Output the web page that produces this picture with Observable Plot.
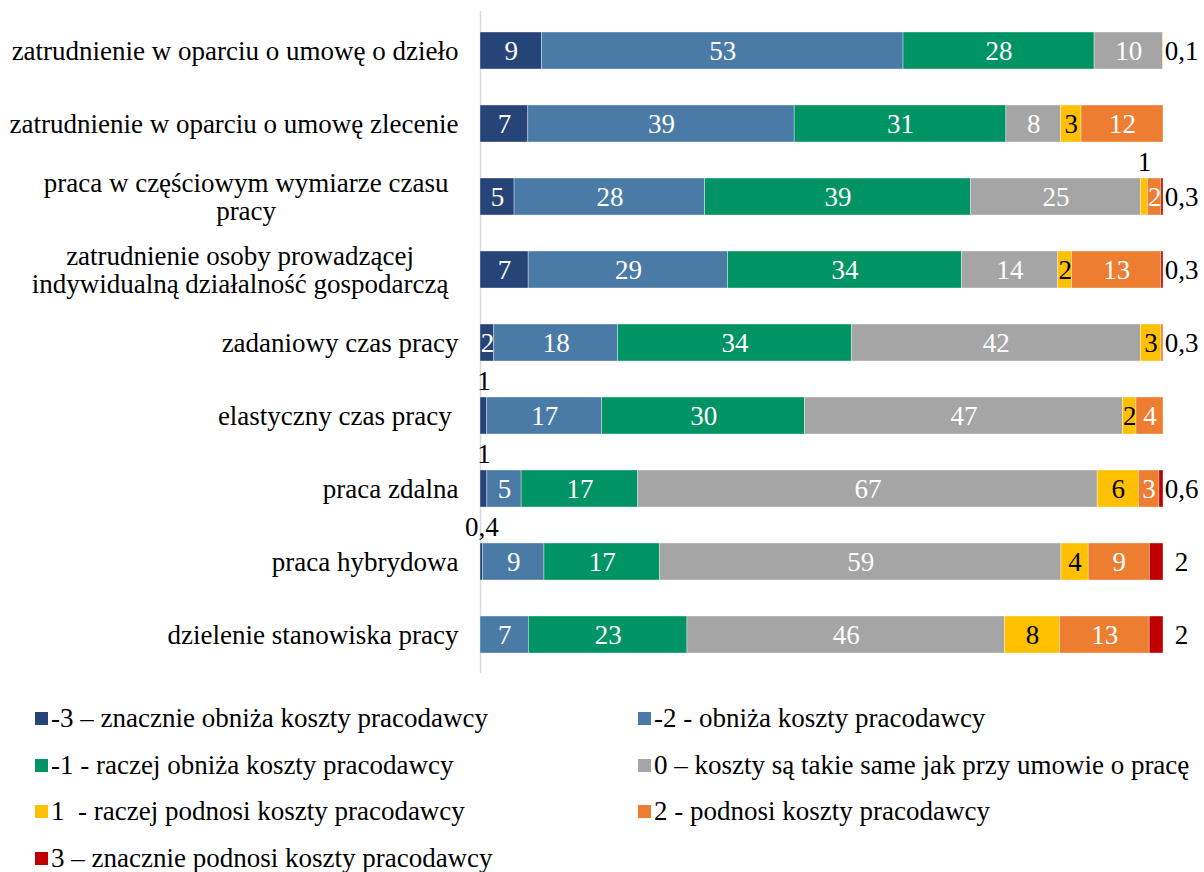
<!DOCTYPE html>
<html><head><meta charset="utf-8">
<script src="https://cdn.jsdelivr.net/npm/d3@7"></script>
<script src="https://cdn.jsdelivr.net/npm/@observablehq/plot@0.6"></script>
<style>
body{margin:0;background:#fff;font-family:"Liberation Serif","Times New Roman",serif;}
#chart{width:1204px;height:680px;}
#chart svg text{font-family:"Liberation Serif","Times New Roman",serif;}
#legend{display:grid;grid-template-columns:603px auto;grid-auto-rows:46.7px;padding:15px 0 0 35px;font-size:27px;color:#000;font-family:"Liberation Serif","Times New Roman",serif;}
.item{display:flex;align-items:center;white-space:pre;}
.sw{width:13px;height:13px;margin-right:3px;flex:none;}
</style></head><body>
<div id="chart"></div>
<div id="legend"></div>
<script>
const categories = [
  "zatrudnienie w oparciu o umowę o dzieło",
  "zatrudnienie w oparciu o umowę zlecenie",
  "praca w częściowym wymiarze czasu\npracy",
  "zatrudnienie osoby prowadzącej\nindywidualną działalność gospodarczą",
  "zadaniowy czas pracy",
  "elastyczny czas pracy\u00a0",
  "praca zdalna",
  "praca hybrydowa",
  "dzielenie stanowiska pracy"
];
const seriesNames = [
  "-3 – znacznie obniża koszty pracodawcy",
  "-2 - obniża koszty pracodawcy",
  "-1 - raczej obniża koszty pracodawcy",
  "0 – koszty są takie same jak przy umowie o pracę",
  "1  - raczej podnosi koszty pracodawcy",
  "2 - podnosi koszty pracodawcy",
  "3 – znacznie podnosi koszty pracodawcy"
];
const colors = ["#264478", "#4a7ba6", "#009464", "#a5a5a5", "#ffc000", "#ed7d31", "#c00000"];

// one array per series, in category order
const sMinus3 = [9, 7, 5, 7, 2, 1, 1, 0.4, 0];
const sMinus2 = [53, 39, 28, 29, 18, 17, 5, 9, 7];
const sMinus1 = [28, 31, 39, 34, 34, 30, 17, 17, 23];
const sZero   = [10, 8, 25, 14, 42, 47, 67, 59, 46];
const sPlus1  = [0.1, 3, 1, 2, 3, 2, 6, 4, 8];
const sPlus2  = [0, 12, 2, 13, 0.3, 4, 3, 9, 13];
const sPlus3  = [0, 0, 0.3, 0.3, 0, 0, 0.6, 2, 2];
const seriesValues = [sMinus3, sMinus2, sMinus1, sZero, sPlus1, sPlus2, sPlus3];

const fmt = v => String(v).replace(".", ",");
const rows = [];
categories.forEach((c, i) => {
  const items = [];
  seriesValues.forEach((arr, j) => { if (arr[i] > 0) items.push({category: c, series: seriesNames[j], si: j, value: arr[i], label: fmt(arr[i])}); });
  items.forEach((d, k) => {
    const last = k === items.length - 1;
    if (d.si === 6) d.pos = "right";
    else if (d.value < 1.5) d.pos = last ? "right" : "above";
    else d.pos = "inside";
    rows.push(d);
  });
});

const stackOpts = {x: "value", y: "category", offset: "normalize"};
const chart = Plot.plot({
  width: 1204, height: 680,
  marginLeft: 480, marginRight: 41, marginTop: 11, marginBottom: 7,
  style: {fontFamily: "Liberation Serif, Times New Roman, serif", fontSize: "27px", color: "#000", background: "#fff"},
  x: {domain: [0, 1], axis: null},
  y: {domain: categories, paddingInner: 0.5, paddingOuter: 0.25, label: null},
  color: {domain: seriesNames, range: colors},
  marks: [
    Plot.ruleX([0], {stroke: "#d9d9d9", strokeWidth: 1.5}),
    Plot.barX(rows, Plot.stackX({...stackOpts, fill: "series", stroke: "#fff", strokeWidth: 0.6, strokeOpacity: 0.6})),
    Plot.text(rows, Plot.stackX({...stackOpts, text: d => (d.pos === "inside" && d.si !== 4) ? d.label : "", fill: "#fff", fontSize: 27})),
    Plot.text(rows, Plot.stackX({...stackOpts, text: d => (d.pos === "inside" && d.si === 4) ? d.label : "", fill: "#000", fontSize: 27})),
    Plot.text(rows, Plot.stackX({...stackOpts, text: d => d.pos === "above" ? d.label : "", fill: "#000", dy: -35, fontSize: 27})),
    Plot.text(rows.filter(d => d.pos === "right"), {y: "category", text: "label", frameAnchor: "right", dx: 18, textAnchor: "middle", fill: "#000", fontSize: 27}),
    Plot.axisY({tickSize: 0, tickPadding: 22, lineHeight: 1.05, fill: "#000", fontSize: 27})
  ]
});
document.getElementById("chart").appendChild(chart);

// center multi-line category labels like the original
chart.querySelectorAll('g[aria-label="y-axis tick label"] text').forEach(t => {
  const spans = t.querySelectorAll("tspan");
  if (spans.length > 1) {
    const w = Math.max(...Array.from(spans, s => s.getComputedTextLength()));
    t.setAttribute("text-anchor", "middle");
    spans.forEach(s => s.setAttribute("x", String(-10 - w / 2)));
  }
});

const legend = document.getElementById("legend");
seriesNames.forEach((n, j) => {
  const it = document.createElement("div");
  it.className = "item";
  const sw = document.createElement("span");
  sw.className = "sw";
  sw.style.background = colors[j];
  const tx = document.createElement("span");
  tx.textContent = n;
  it.appendChild(sw); it.appendChild(tx);
  legend.appendChild(it);
});
</script>
</body></html>
